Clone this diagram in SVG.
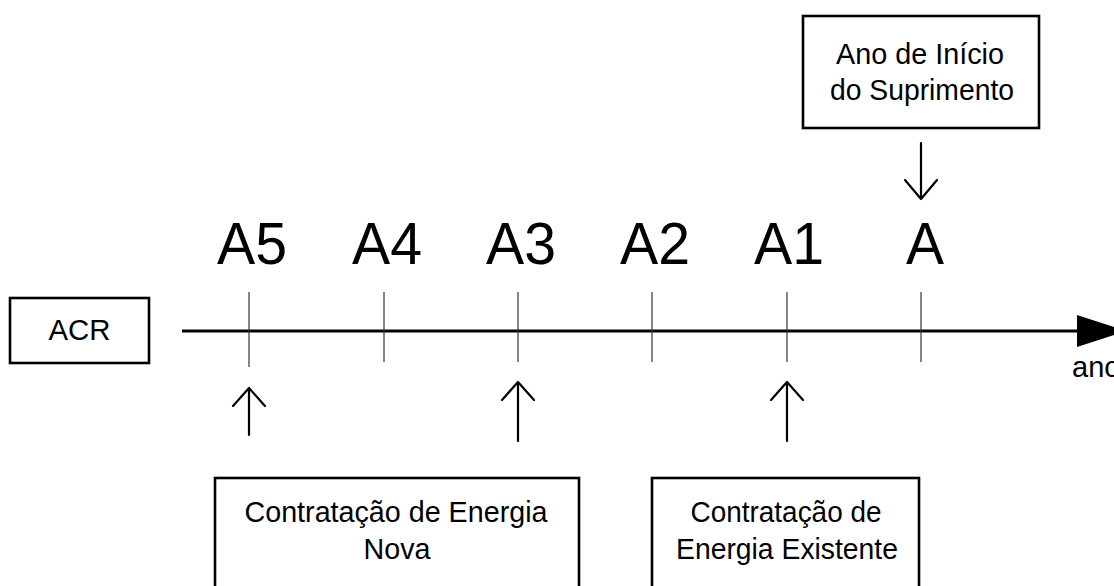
<svg xmlns="http://www.w3.org/2000/svg" width="1114" height="586" viewBox="0 0 1114 586">
<style>
.box{fill:#fff;stroke:#000;stroke-width:2.6}
.t{font-family:"Liberation Sans",Arial,sans-serif;font-size:29px;fill:#000;text-anchor:middle}
.big{font-family:"Liberation Sans",Arial,sans-serif;font-size:60px;fill:#000;text-anchor:middle}
.tick{stroke:#333;stroke-width:1.2}
.arr{fill:none;stroke:#000;stroke-width:2.2;stroke-linecap:round;stroke-linejoin:round}
</style>
<rect width="1114" height="586" fill="#fff"/>
<g id="connectors">
  <line x1="182" y1="331" x2="1080" y2="331" stroke="#000" stroke-width="2.8"/>
  <polygon points="1077,315 1077,347 1126,331" fill="#000"/>
  <line class="tick" x1="249" y1="292" x2="249" y2="367"/>
  <line class="tick" x1="384" y1="292" x2="384" y2="362"/>
  <line class="tick" x1="518" y1="292" x2="518" y2="362"/>
  <line class="tick" x1="652" y1="292" x2="652" y2="362"/>
  <line class="tick" x1="787" y1="292" x2="787" y2="362"/>
  <line class="tick" x1="921" y1="292" x2="921" y2="362"/>
  <path class="arr" d="M249,435 V388 M233,406 L249,388 L265,406"/>
  <path class="arr" d="M518,441 V382 M502,400 L518,382 L534,400"/>
  <path class="arr" d="M787,441 V382 M771,400 L787,382 L803,400"/>
  <path class="arr" d="M921,143 V199 M905,180 L921,199 L937,180"/>
</g>
<g id="acr">
  <rect class="box" x="10" y="298" width="139" height="65"/>
  <text class="t" x="79.5" y="340" textLength="62" lengthAdjust="spacingAndGlyphs">ACR</text>
</g>
<g id="labels">
  <text class="big" x="252" y="264" textLength="70" lengthAdjust="spacingAndGlyphs">A5</text>
  <text class="big" x="387" y="264" textLength="70" lengthAdjust="spacingAndGlyphs">A4</text>
  <text class="big" x="521" y="264" textLength="70" lengthAdjust="spacingAndGlyphs">A3</text>
  <text class="big" x="655" y="264" textLength="70" lengthAdjust="spacingAndGlyphs">A2</text>
  <text class="big" x="789" y="264" textLength="70" lengthAdjust="spacingAndGlyphs">A1</text>
  <text class="big" x="925" y="264" textLength="38" lengthAdjust="spacingAndGlyphs">A</text>
</g>
<g id="ano">
  <text class="t" x="1072" y="377" style="text-anchor:start">ano</text>
</g>
<g id="inicio">
  <rect class="box" x="803" y="16" width="236" height="112"/>
  <text class="t" x="920" y="64" textLength="168" lengthAdjust="spacingAndGlyphs">Ano de Início</text>
  <text class="t" x="922" y="100" textLength="184" lengthAdjust="spacingAndGlyphs">do Suprimento</text>
</g>
<g id="nova">
  <rect class="box" x="215" y="478" width="364" height="130"/>
  <text class="t" x="396" y="522" textLength="303" lengthAdjust="spacingAndGlyphs">Contratação de Energia</text>
  <text class="t" x="397" y="559" textLength="67" lengthAdjust="spacingAndGlyphs">Nova</text>
</g>
<g id="existente">
  <rect class="box" x="652" y="478" width="267" height="130"/>
  <text class="t" x="786" y="522" textLength="191" lengthAdjust="spacingAndGlyphs">Contratação de</text>
  <text class="t" x="787" y="559" textLength="222" lengthAdjust="spacingAndGlyphs">Energia Existente</text>
</g>
</svg>
